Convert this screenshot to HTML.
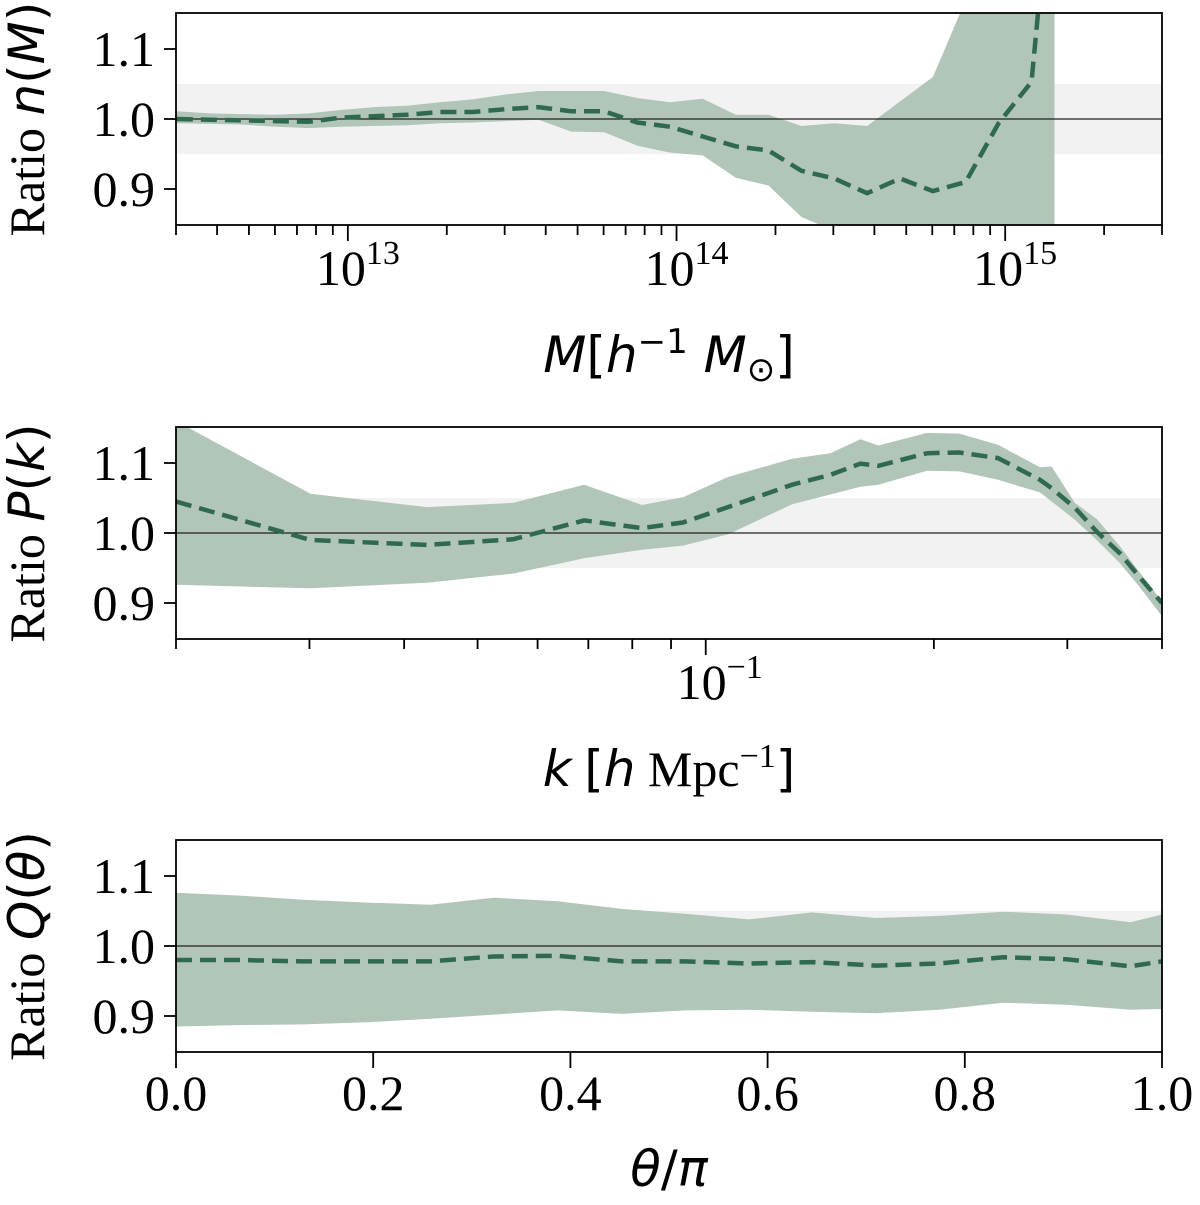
<!DOCTYPE html>
<html><head><meta charset="utf-8"><style>
html,body{margin:0;padding:0;background:#fff;}
svg{display:block;}
text{font-family:"Liberation Serif",serif;fill:#000;}
.m{font-family:"DejaVu Sans","Liberation Sans",sans-serif;font-style:italic;}
.r{font-family:"DejaVu Sans","Liberation Sans",sans-serif;}
</style></head><body>
<svg id="fig" width="1200" height="1205" viewBox="0 0 1200 1205" xmlns="http://www.w3.org/2000/svg"></svg>
<script>
// ---- Panel 1: halo mass function ratio ----
const massLog = [12.48,12.58,12.68,12.78,12.88,12.98,13.08,13.18,13.28,13.38,13.48,13.58,13.68,13.78,13.88,13.98,14.08,14.18,14.28,14.38,14.48,14.58,14.68,14.78,14.88,14.98,15.08,15.15];
const massRatio = [1.000,0.999,0.998,0.997,0.996,1.002,1.004,1.006,1.010,1.010,1.014,1.017,1.011,1.011,0.995,0.989,0.975,0.961,0.955,0.926,0.915,0.894,0.915,0.897,0.910,0.994,1.053,1.40];
const massUpper = [1.011,1.008,1.007,1.006,1.008,1.013,1.017,1.019,1.024,1.028,1.035,1.040,1.040,1.040,1.030,1.024,1.029,1.006,1.006,0.990,0.994,0.990,1.025,1.060,1.170,1.300,1.400,1.500];
const massLower = [0.994,0.993,0.992,0.989,0.987,0.989,0.990,0.991,0.994,0.995,0.997,0.999,0.982,0.981,0.962,0.952,0.948,0.916,0.905,0.860,0.840,0.800,0.780,0.770,0.750,0.700,0.600,0.500];
// ---- Panel 2: power spectrum ratio ----
const kVals = [0.0200,0.0301,0.0429,0.0557,0.0691,0.0824,0.0933,0.107,0.130,0.146,0.160,0.169,0.196,0.216,0.243,0.276,0.286,0.307,0.328,0.352,0.373,0.400];
const pkRatio = [1.045,0.990,0.983,0.991,1.018,1.007,1.015,1.037,1.069,1.083,1.099,1.096,1.114,1.115,1.107,1.076,1.064,1.036,1.002,0.971,0.938,0.900];
const pkUpper = [1.160,1.056,1.037,1.043,1.069,1.040,1.051,1.080,1.106,1.114,1.134,1.125,1.143,1.142,1.126,1.094,1.095,1.043,1.020,0.981,0.945,0.902];
const pkLower = [0.926,0.921,0.929,0.942,0.964,0.976,0.982,0.998,1.041,1.055,1.066,1.069,1.089,1.088,1.076,1.058,1.045,1.019,0.990,0.957,0.924,0.881];
// ---- Panel 3: Q(theta) ratio ----
const thetaVals = [0,0.0645,0.129,0.194,0.258,0.322,0.387,0.452,0.516,0.581,0.645,0.710,0.774,0.839,0.903,0.968,1.0];
const qRatio = [0.980,0.980,0.978,0.978,0.978,0.985,0.986,0.978,0.978,0.975,0.977,0.972,0.975,0.984,0.981,0.971,0.978];
const qUpper = [1.076,1.072,1.066,1.062,1.059,1.069,1.064,1.053,1.046,1.038,1.048,1.040,1.043,1.049,1.045,1.034,1.045];
const qLower = [0.885,0.887,0.888,0.891,0.896,0.902,0.908,0.903,0.908,0.909,0.906,0.904,0.909,0.919,0.916,0.909,0.910];
const yTicks = [0.9,1.0,1.1];
const yTickLabels = ["0.9","1.0","1.1"];
const thetaTicks = [0,0.2,0.4,0.6,0.8,1.0];
const thetaTickLabels = ["0.0","0.2","0.4","0.6","0.8","1.0"];

const NS="http://www.w3.org/2000/svg";
const svg=document.getElementById('fig');
function mk(tag,attrs,parent){const e=document.createElementNS(NS,tag);for(const k in attrs)e.setAttribute(k,attrs[k]);(parent||svg).appendChild(e);return e;}
const X0=176,X1=1162;
const FILL="#b1c5b9",LINE="#2f6a50";
const FS=50, SUP=34, TLY=58;

function panel(top,xs,name){
  const bot=top+212;
  const ys=v=>top+106-(v-1.0)*700;
  const g=mk('g',{});
  
  
  const cp=mk('clipPath',{id:'c'+top},g);
  mk('rect',{x:X0,y:top,width:X1-X0,height:bot-top},cp);
  const band=mk('rect',{x:X0,y:ys(1.05),width:X1-X0,height:ys(0.95)-ys(1.05),fill:'#f2f2f2'},g);
  
  
  return {g,ys,bot,top,clip:'url(#c'+top+')'};
}
function series(P,xs,xv,mid,up,lo,name){
  let d='';
  for(let i=0;i<xv.length;i++)d+=(i?'L':'M')+xs(xv[i]).toFixed(1)+','+P.ys(up[i]).toFixed(1);
  for(let i=xv.length-1;i>=0;i--)d+='L'+xs(xv[i]).toFixed(1)+','+P.ys(lo[i]).toFixed(1);
  const a=mk('path',{d:d+'Z',fill:FILL,'clip-path':P.clip},P.g);
  
  
  const h=mk('line',{x1:X0,x2:X1,y1:P.ys(1),y2:P.ys(1),stroke:'#222','stroke-width':1.2},P.g);
  
  
  let p='';
  for(let i=0;i<xv.length;i++)p+=(i?'L':'M')+xs(xv[i]).toFixed(1)+','+P.ys(mid[i]).toFixed(1);
  const l=mk('path',{d:p,fill:'none',stroke:LINE,'stroke-width':4.5,'stroke-dasharray':'16,8','clip-path':P.clip},P.g);
  
  
}
function frame(P,ylabelHTML,ylName){
  const f=mk('rect',{x:X0,y:P.top,width:X1-X0,height:P.bot-P.top,fill:'none',stroke:'#000','stroke-width':1.8},P.g);
  
  
  yTicks.forEach((v,i)=>{
    mk('line',{x1:X0-12,x2:X0,y1:P.ys(v),y2:P.ys(v),stroke:'#000','stroke-width':1.8},P.g);
    const t=mk('text',{x:X0-21,y:P.ys(v)+17,'text-anchor':'end','font-size':FS},P.g);
    t.textContent=yTickLabels[i];
    
    
  });
  const cy=(P.top+P.bot)/2;
  const t=mk('text',{x:0,y:0,'text-anchor':'middle','font-size':FS,transform:`translate(44,${cy}) rotate(-90)`},P.g);
  t.innerHTML=ylabelHTML;
  
  
}
function logTicks(P,xs,lo,hi){
  for(let e=Math.floor(Math.log10(lo));e<=Math.ceil(Math.log10(hi));e++){
    for(let m=1;m<10;m++){
      const v=m*Math.pow(10,e); if(v<lo*0.999||v>hi*1.001)continue;
      mk('line',{x1:xs(v),x2:xs(v),y1:P.bot,y2:P.bot+(m===1?16:10),stroke:'#000','stroke-width':1.8},P.g);
    }
  }
}
function expLabel(P,x,exp){
  const t=mk('text',{x:x,y:P.bot+TLY+2,'text-anchor':'middle','font-size':FS},P.g);
  t.innerHTML=`10<tspan dy="-21" font-size="${SUP}">${exp}</tspan>`;
  
  
}

// Panel 1
const mL=Math.log10(3e12),mH=Math.log10(3e15);
const xsM=v=>X0+(Math.log10(v)-mL)/(mH-mL)*(X1-X0);
const xsMl=lv=>X0+(lv-mL)/(mH-mL)*(X1-X0);
const P1=panel(13,xsM,'mass-function-panel');
series(P1,xsMl,massLog,massRatio,massUpper,massLower,'mass');
frame(P1,'Ratio <tspan class="m">n</tspan><tspan class="r">(</tspan><tspan class="m">M</tspan><tspan class="r">)</tspan>','y-axis-title-mass');
logTicks(P1,xsM,3e12,3e15);
[13,14,15].forEach(e=>expLabel(P1,xsM(Math.pow(10,e))+10,e));
let xl=mk('text',{x:669,y:372,'text-anchor':'middle','font-size':FS},P1.g);
xl.innerHTML='<tspan class="m">M</tspan><tspan class="r">[</tspan><tspan class="m">h</tspan><tspan class="r" dy="-19" font-size="34">−1</tspan><tspan class="m" dy="19"> M</tspan><tspan class="r" dy="9" font-size="34">⊙</tspan><tspan class="r" dy="-9">]</tspan>';



// Panel 2
const kL=Math.log10(0.02),kH=Math.log10(0.4);
const xsK=v=>X0+(Math.log10(v)-kL)/(kH-kL)*(X1-X0);
const P2=panel(427,xsK,'power-spectrum-panel');
series(P2,xsK,kVals,pkRatio,pkUpper,pkLower,'pk');
frame(P2,'Ratio <tspan class="m">P</tspan><tspan class="r">(</tspan><tspan class="m">k</tspan><tspan class="r">)</tspan>','y-axis-title-pk');
logTicks(P2,xsK,0.02,0.4);
expLabel(P2,xsK(0.1)+14,'−1');
xl=mk('text',{x:669,y:786,'text-anchor':'middle','font-size':FS},P2.g);
xl.innerHTML='<tspan class="m">k</tspan> <tspan class="r">[</tspan><tspan class="m">h</tspan> Mpc<tspan dy="-19" font-size="34">−1</tspan><tspan class="r" dy="19">]</tspan>';



// Panel 3
const xsT=v=>X0+v*(X1-X0);
const P3=panel(840,xsT,'q-theta-panel');
series(P3,xsT,thetaVals,qRatio,qUpper,qLower,'q');
frame(P3,'Ratio <tspan class="m">Q</tspan><tspan class="r">(</tspan><tspan class="m">θ</tspan><tspan class="r">)</tspan>','y-axis-title-q');
thetaTicks.forEach((v,i)=>{
  mk('line',{x1:xsT(v),x2:xsT(v),y1:P3.bot,y2:P3.bot+16,stroke:'#000','stroke-width':1.8},P3.g);
  const t=mk('text',{x:xsT(v),y:P3.bot+TLY,'text-anchor':'middle','font-size':FS},P3.g);
  t.textContent=thetaTickLabels[i];
  
  
});
xl=mk('text',{x:669,y:1186,'text-anchor':'middle','font-size':FS},P3.g);
xl.innerHTML='<tspan class="m">θ</tspan><tspan class="r">/</tspan><tspan class="m">π</tspan>';


</script>
</body></html>
